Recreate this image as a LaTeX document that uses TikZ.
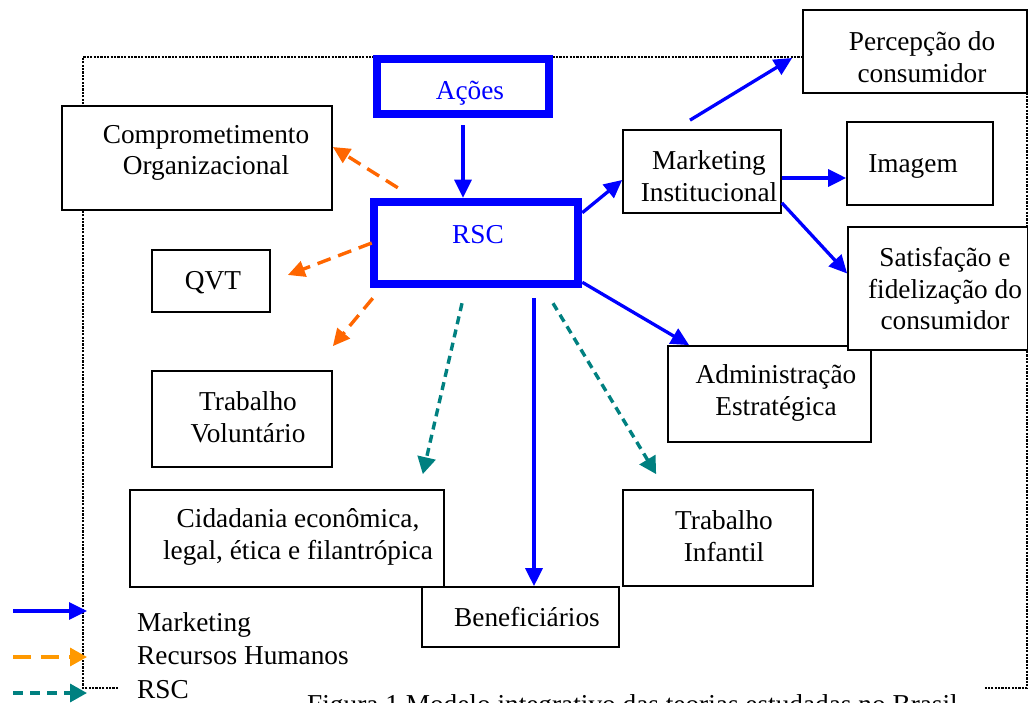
\documentclass[tikz,border=0pt]{standalone}
\usepackage{fontspec}
\setmainfont{Liberation Serif}
\usetikzlibrary{arrows.meta,calc}
\definecolor{mblue}{RGB}{0,0,255}
\definecolor{hrorange}{RGB}{255,102,0}
\definecolor{legorange}{RGB}{255,153,0}
\definecolor{rscteal}{RGB}{0,128,128}
\begin{document}
\begin{tikzpicture}[x=1pt,y=-1pt,
  box/.style={draw=black, line width=1.7pt, fill=white, inner sep=0pt},
  thickbox/.style={draw=mblue, line width=8.5pt, fill=white, inner sep=0pt},
  txt/.style={inner sep=0pt, align=center, font=\fontsize{27.3}{31.5}\selectfont},
  dotb/.style={draw=black, line width=2.8pt, dash pattern=on 2.2pt off 1.2pt},
  mkt/.style={draw=mblue, line width=3.3pt, -{Triangle[length=18pt,width=17pt]}},
  hr/.style={draw=hrorange, line width=3.4pt, dash pattern=on 14pt off 8pt, -{Triangle[length=17pt,width=16pt]}},
  rs/.style={draw=rscteal, line width=3.4pt, dash pattern=on 8pt off 5.5pt, -{Triangle[length=17pt,width=18pt]}},
  leghr/.style={draw=legorange, line width=3.4pt, dash pattern=on 18pt off 10pt, -{Triangle[length=17pt,width=18pt]}},
  legrs/.style={draw=rscteal, line width=3.4pt, dash pattern=on 10pt off 7pt, -{Triangle[length=17pt,width=18pt]}}
]
\useasboundingbox (0,0) rectangle (1029,703);

% dotted frame
\draw[dotb] (118,688) -- (83,688) -- (83,57) -- (1027,57) -- (1027,688) -- (985,688);

% boxes
\node[thickbox, minimum width=172pt, minimum height=55pt] (acoes) at (463,86.5) {};
\node[thickbox, minimum width=204pt, minimum height=82pt] (rsc) at (476,243) {};
\node[box, minimum width=270pt, minimum height=104pt] (comp) at (197,158) {};
\node[box, minimum width=118pt, minimum height=62pt] (qvt) at (211,281) {};
\node[box, minimum width=180pt, minimum height=96pt] (tv) at (242,419) {};
\node[box, minimum width=314pt, minimum height=97pt] (cid) at (286.8,538.5) {};
\node[box, minimum width=197pt, minimum height=60pt] (ben) at (520.5,617) {};
\node[box, minimum width=190pt, minimum height=96pt] (ti) at (718,538) {};
\node[box, minimum width=203pt, minimum height=96pt] (adm) at (769.5,394) {};
\node[box, minimum width=179.5pt, minimum height=123pt] (sat) at (937.75,288.5) {};
\node[box, minimum width=158pt, minimum height=83pt] (mi) at (702,171.5) {};
\node[box, minimum width=146pt, minimum height=83pt] (img) at (920,163.5) {};
\node[box, minimum width=224pt, minimum height=83pt] (perc) at (915,51.5) {};

% texts in boxes
\node[txt, text=mblue] (tacoes) at (470,93) {\strut Ações};
\node[txt, text=mblue] (trsc) at (478,237) {\strut RSC};
\node[txt] (tcomp) at (206,153) {Comprometimento\\Organizacional};
\node[txt] (tqvt) at (213,283) {\strut QVT};
\node[txt] (ttv) at (248,417) {Trabalho\\Voluntário};
\node[txt] (tcid) at (298,537) {Cidadania econômica,\\legal, ética e filantrópica};
\node[txt] (tben) at (527,620) {\strut Beneficiários};
\node[txt] (tti) at (724,536) {Trabalho\\Infantil};
\node[txt] (tadm) at (776,393) {Administração\\Estratégica};
\node[txt] (tsat) at (945,289) {Satisfação e\\fidelização do\\consumidor};
\node[txt] (tmi) at (709,176) {Marketing\\Institucional};
\node[txt] (timg) at (913,166) {\strut Imagem};
\node[txt] (tperc) at (922,57) {Percepção do\\consumidor};

% marketing arrows
\draw[mkt] ($(acoes.south)+(0,7)$) -- (acoes.south |- rsc.north);
\draw[mkt] ($(rsc.north east)+(0,15)$) -- ($(mi.west)+(0,8.5)$);
\draw[mkt] ($(mi.north)+(-12,-9)$) -- ($(perc.west)+(-10,6.5)$);
\draw[mkt] ($(mi.east)+(0,6.5)$) -- ($(img.west)+(0,14.5)$);
\draw[mkt] ($(mi.south east)+(0,-11)$) -- ($(sat.west)+(0,-15)$);
\draw[mkt] ($(rsc.south east)+(0,-6)$) -- ($(adm.north west)+(22,0)$);
\draw[mkt] ($(rsc.south)+(58,10)$) -- ($(ben.north)+(13.5,0)$);

% human resources arrows
\draw[hr] ($(rsc.north west)+(28,-10)$) -- ($(comp.east)+(0,-11)$);
\draw[hr] ($(rsc.west)+(2,0)$) -- ($(qvt.east)+(17,-6)$);
\draw[hr] ($(rsc.south west)+(3,10)$) -- ($(tv.north east)+(0,-24)$);

% RSC arrows
\draw[rs] ($(rsc.south)+(-14,15)$) -- ($(cid.north)+(136,-15)$);
\draw[rs] ($(rsc.south)+(77,15)$) -- ($(ti.north west)+(34,-15)$);

% legend
\coordinate (l1a) at (13,611); \coordinate (l1b) at (87,611);
\coordinate (l2a) at (13,657); \coordinate (l2b) at (87,657);
\coordinate (l3a) at (13,693); \coordinate (l3b) at (87,693);
\draw[mkt] (l1a) -- (l1b);
\draw[leghr] (l2a) -- (l2b);
\draw[legrs] (l3a) -- (l3b);
\node[txt, anchor=base west] (lg1) at (137,631) {Marketing};
\node[txt, anchor=base west] (lg2) at (137,664) {Recursos Humanos};
\node[txt, anchor=base west] (lg3) at (137,698) {RSC};

% caption
\node[txt, anchor=base west] (cap) at (307,713) {Figura 1 Modelo integrativo das teorias estudadas no Brasil};
\end{tikzpicture}
\end{document}
